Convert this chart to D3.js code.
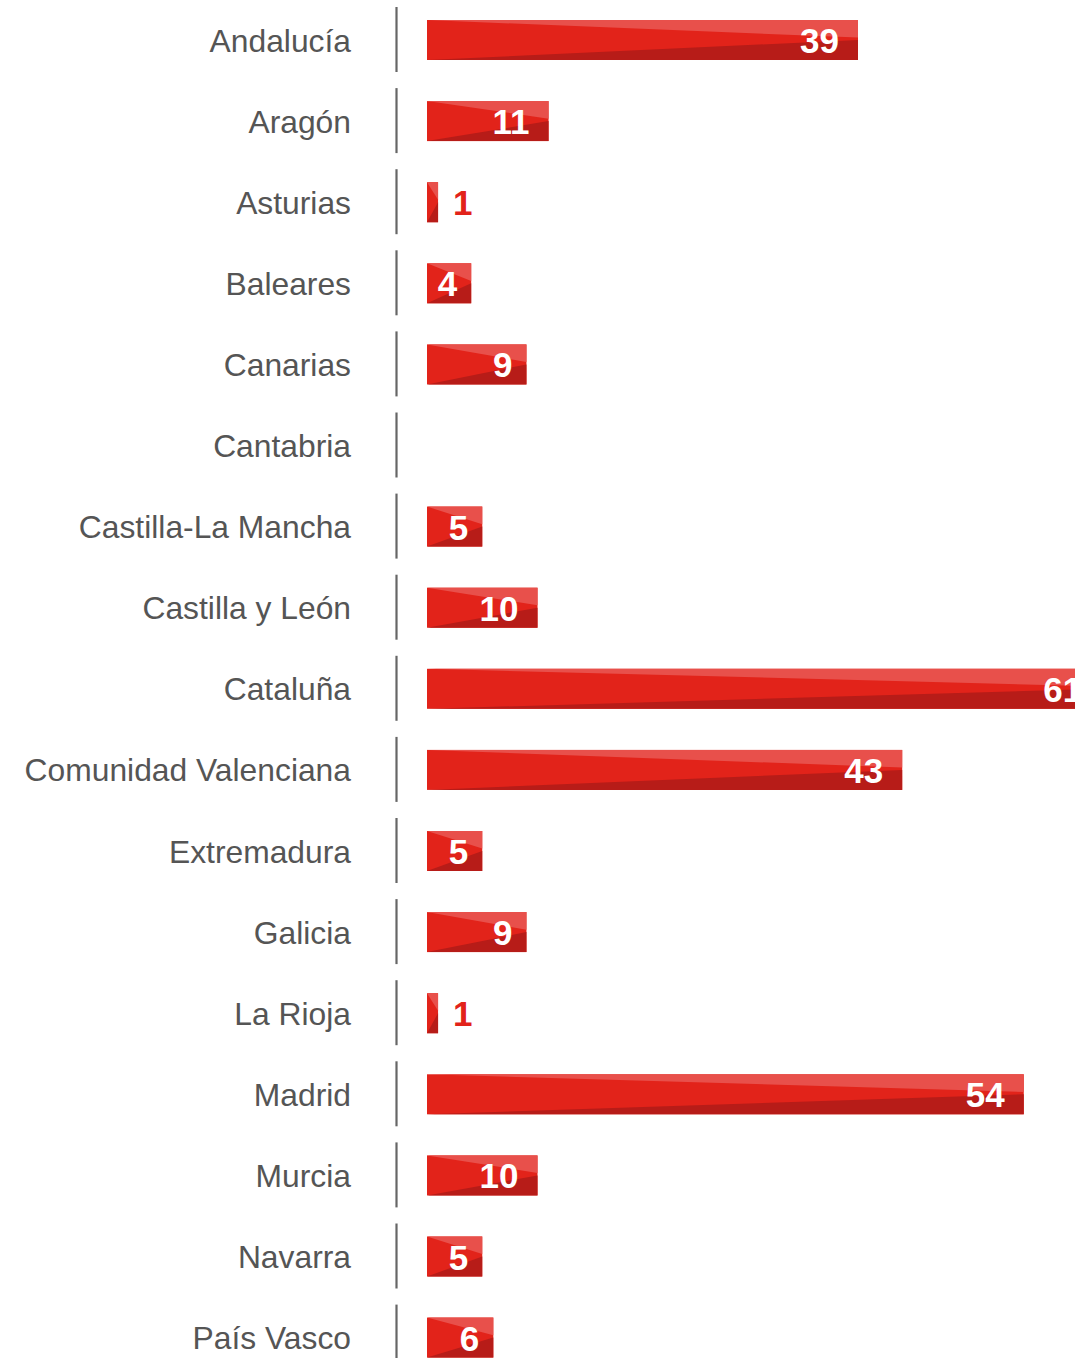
<!DOCTYPE html>
<html>
<head>
<meta charset="utf-8">
<script src="https://cdn.jsdelivr.net/npm/d3@7"></script>
<style>
  html, body { margin: 0; padding: 0; background: #fff; overflow: hidden; }
  svg { display: block; }
</style>
</head>
<body>
<svg id="chart" width="1075" height="1358"></svg>
<script>
const categories = [
  "Andalucía", "Aragón", "Asturias", "Baleares", "Canarias", "Cantabria",
  "Castilla-La Mancha", "Castilla y León", "Cataluña", "Comunidad Valenciana",
  "Extremadura", "Galicia", "La Rioja", "Madrid", "Murcia", "Navarra", "País Vasco"
];
const values = [39, 11, 1, 4, 9, 0, 5, 10, 61, 43, 5, 9, 1, 54, 10, 5, 6];

const W = 1075, H = 1358;
const svg = d3.select("#chart");

const x = d3.scaleLinear().domain([0, 39]).range([427, 858]);
const y = d3.scalePoint().domain(categories).range([40, 1337.6]);
const barH = 40;

const colMid = "#e2231a", colLight = "#e8504b", colDark = "#b71c18";

// axis segments
svg.append("g").selectAll("line").data(categories).join("line")
  .attr("x1", 396.5).attr("x2", 396.5)
  .attr("y1", d => y(d) - 33).attr("y2", d => y(d) + 32)
  .attr("stroke", "#666").attr("stroke-width", 2.2);

// category labels
svg.append("g").selectAll("text").data(categories).join("text")
  .attr("x", 351).attr("y", d => y(d) + 11.5)
  .attr("text-anchor", "end")
  .attr("font-family", "'Liberation Sans', Arial, sans-serif")
  .attr("font-size", 31.8)
  .attr("fill", "#555")
  .text(d => d);

const data = categories.map((c, i) => ({ c, v: values[i] })).filter(d => d.v > 0);

const bars = svg.append("g").selectAll("g").data(data).join("g")
  .attr("transform", d => `translate(${x(0)},${y(d.c) - barH / 2})`);

bars.append("rect")
  .attr("width", d => x(d.v) - x(0)).attr("height", barH)
  .attr("fill", colMid);

bars.append("path")
  .attr("fill", colLight)
  .attr("d", d => { const w = x(d.v) - x(0); return `M0,0L${w},0L${w},${barH * 0.44}Z`; });

bars.append("path")
  .attr("fill", colDark)
  .attr("d", d => { const w = x(d.v) - x(0); return `M0,${barH}L${w},${barH}L${w},${barH * 0.5}Z`; });

// value labels
bars.append("text")
  .attr("y", barH / 2 + 13)
  .attr("font-family", "'Liberation Sans', Arial, sans-serif")
  .attr("font-weight", "bold")
  .attr("font-size", 35)
  .each(function (d) {
    const w = x(d.v) - x(0);
    const t = d3.select(this);
    if (w < 30) {
      t.attr("x", w + 15).attr("text-anchor", "start").attr("fill", colMid);
    } else {
      const pad = d.v < 10 ? 14 : 19;
      t.attr("x", w - pad).attr("text-anchor", "end").attr("fill", "#fff");
    }
  })
  .text(d => d.v);
</script>
</body>
</html>
